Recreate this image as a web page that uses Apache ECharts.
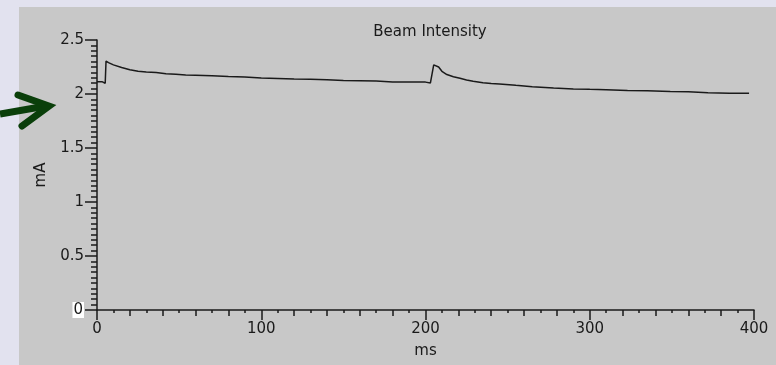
<!DOCTYPE html>
<html>
<head>
<meta charset="utf-8">
<script src="https://cdn.jsdelivr.net/npm/echarts@6/dist/echarts.min.js"></script>
<style>
  html, body { margin: 0; padding: 0; background: #e2e2ef; }
  #container { width: 776px; height: 365px; }
</style>
</head>
<body>
<div id="container"></div>
<script>
// data: time (ms) and beam current (mA)
var msValues = [0, 3, 3.5, 5, 5.5, 7, 10, 15, 20, 25, 30, 36, 42, 48, 54, 60, 70, 80, 90, 100,
    110, 120, 130, 140, 150, 160, 170, 180, 190, 200, 203, 204, 205, 206, 208, 210, 213, 217, 221, 225,
    229, 235, 240, 245, 255, 265, 278, 290, 300, 310, 323, 335, 349, 360, 372, 385, 397];
var mAValues = [2.114, 2.114, 2.10, 2.10, 2.305, 2.29, 2.27, 2.245, 2.225, 2.21, 2.203, 2.198, 2.188, 2.182, 2.176, 2.174, 2.168, 2.162, 2.158, 2.148,
    2.143, 2.138, 2.136, 2.133, 2.125, 2.123, 2.12, 2.112, 2.11, 2.11, 2.102, 2.105, 2.27, 2.285, 2.25, 2.21, 2.18, 2.16, 2.145, 2.13,
    2.118, 2.105, 2.097, 2.093, 2.08, 2.068, 2.055, 2.047, 2.043, 2.04, 2.033, 2.03, 2.022, 2.02, 2.012, 2.008, 2.007];
var yTicks = [0, 0.5, 1, 1.5, 2, 2.5];
var xTicks = [0, 100, 200, 300, 400];

var points = [];
for (var i = 0; i < msValues.length; i++) {
    points.push([msValues[i], mAValues[i]]);
}

var myChart = echarts.init(document.getElementById("container"));
var font = "'DejaVu Sans', sans-serif";
var ink = '#1a1a1a';

option = {
    animation: false,
    textStyle: {fontFamily: font},
    title: {
        text: 'Beam Intensity',
        left: 425,
        textAlign: 'center',
        top: 20,
        textStyle: {fontSize: 15, fontWeight: 'normal', color: ink, fontFamily: font}
    },
    graphic: [
        //灰色面板
        {type: 'rect', left: 19, top: 7, z: -10, shape: {width: 757, height: 358}, style: {fill: '#c8c8c8'}},
        //绿色箭头
        {type: 'polyline', z: 10, shape: {points: [[0, 114], [46, 106]]},
            style: {stroke: '#0a3f0a', lineWidth: 7, fill: null}},
        {type: 'polyline', z: 10, shape: {points: [[18, 95], [49, 106], [22, 126]]},
            style: {stroke: '#0a3f0a', lineWidth: 7, fill: null, lineJoin: 'miter', lineCap: 'round'}}
    ],
    grid: {left: 97, right: 22, top: 40, bottom: 55, containLabel: false, outerBoundsMode: 'none'},
    xAxis: [
        {
            type: 'value',
            min: xTicks[0],
            max: xTicks[xTicks.length - 1],
            interval: 100,
            name: 'ms',
            nameLocation: 'middle',
            nameGap: 34,
            nameTextStyle: {fontSize: 15, color: ink, fontFamily: font},
            axisLine: {show: true, lineStyle: {color: ink, width: 1.5}},
            axisTick: {show: true, length: 10, lineStyle: {color: ink, width: 1.5}},
            minorTick: {show: true, splitNumber: 10, length: 3, lineStyle: {color: ink, width: 1.5}},
            axisLabel: {fontSize: 15, color: ink, margin: 12, fontFamily: font},
            splitLine: {show: false}
        },
        {
            type: 'value',
            min: xTicks[0],
            max: xTicks[xTicks.length - 1],
            interval: 20,
            position: 'bottom',
            axisLine: {show: false},
            axisTick: {show: true, length: 6, lineStyle: {color: ink, width: 1.5}},
            axisLabel: {show: false},
            splitLine: {show: false}
        }
    ],
    yAxis: {
        type: 'value',
        min: yTicks[0],
        max: yTicks[yTicks.length - 1],
        interval: 0.5,
        name: 'mA',
        nameLocation: 'middle',
        nameGap: 48,
        nameTextStyle: {fontSize: 15, color: ink, fontFamily: font},
        axisLine: {show: true, lineStyle: {color: ink, width: 1.5}},
        axisTick: {show: true, length: 12, lineStyle: {color: ink, width: 1.5}},
        minorTick: {show: true, splitNumber: 10, length: 6, lineStyle: {color: ink, width: 1.5}},
        axisLabel: {
            fontSize: 15, color: ink, margin: 13, fontFamily: font,
            formatter: function (v) { return v === 0 ? '{z|0}' : String(v); },
            rich: {z: {backgroundColor: '#ffffff', fontSize: 15, color: ink, fontFamily: font, padding: [1, 1, 0, 1]}}
        },
        splitLine: {show: false}
    },
    series: [
        {
            name: 'Beam Intensity',
            type: 'line',
            xAxisIndex: 0,
            data: points,
            showSymbol: false,
            lineStyle: {color: ink, width: 1.5}
        }
    ]
};
myChart.setOption(option);
</script>
</body>
</html>
